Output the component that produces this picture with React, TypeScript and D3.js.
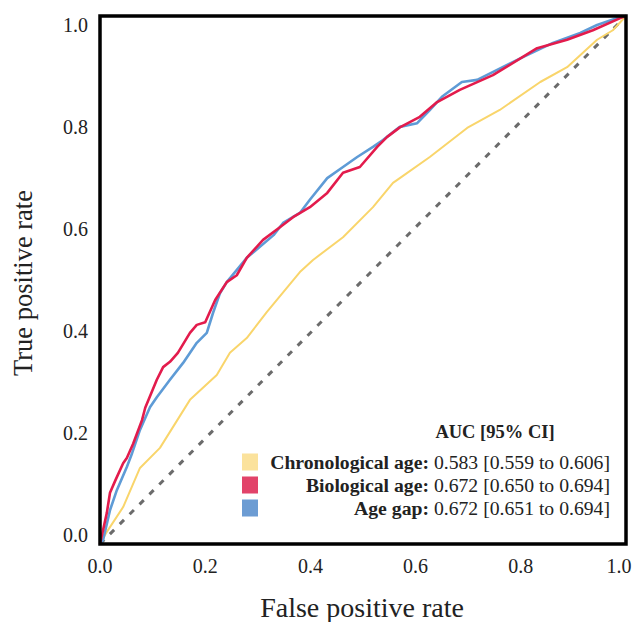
import React from "react";
import * as d3 from "d3";

const chronoFpr = [0, 0.013, 0.044, 0.076, 0.114, 0.171, 0.222, 0.247, 0.279, 0.317, 0.38, 0.405, 0.462, 0.519, 0.557, 0.57, 0.627, 0.698, 0.76, 0.837, 0.888, 0.945, 0.975, 1];
const chronoTpr = [0, 0.023, 0.07, 0.144, 0.182, 0.273, 0.32, 0.362, 0.39, 0.439, 0.515, 0.538, 0.581, 0.638, 0.684, 0.693, 0.733, 0.788, 0.822, 0.875, 0.903, 0.955, 0.973, 1];

const bioFpr = [0, 0.013, 0.019, 0.029, 0.044, 0.051, 0.063, 0.08, 0.086, 0.108, 0.12, 0.133, 0.148, 0.171, 0.184, 0.2, 0.219, 0.241, 0.26, 0.279, 0.31, 0.342, 0.367, 0.399, 0.432, 0.462, 0.494, 0.527, 0.546, 0.57, 0.608, 0.641, 0.684, 0.747, 0.831, 0.888, 0.937, 0.989, 1];
const bioTpr = [0, 0.059, 0.097, 0.12, 0.153, 0.163, 0.19, 0.235, 0.258, 0.311, 0.335, 0.345, 0.362, 0.4, 0.415, 0.42, 0.462, 0.496, 0.509, 0.542, 0.576, 0.6, 0.619, 0.638, 0.665, 0.703, 0.714, 0.752, 0.771, 0.789, 0.809, 0.837, 0.86, 0.888, 0.939, 0.955, 0.973, 0.996, 1];

const gapFpr = [0, 0.006, 0.019, 0.032, 0.051, 0.061, 0.076, 0.095, 0.108, 0.133, 0.158, 0.184, 0.203, 0.215, 0.228, 0.241, 0.279, 0.33, 0.348, 0.38, 0.399, 0.432, 0.462, 0.489, 0.519, 0.538, 0.57, 0.603, 0.627, 0.65, 0.688, 0.717, 0.755, 0.804, 0.861, 0.913, 0.945, 0.989, 1];
const gapTpr = [0, 0.008, 0.064, 0.102, 0.146, 0.172, 0.216, 0.259, 0.278, 0.311, 0.343, 0.381, 0.4, 0.438, 0.475, 0.496, 0.542, 0.585, 0.608, 0.627, 0.652, 0.693, 0.714, 0.733, 0.752, 0.765, 0.79, 0.797, 0.822, 0.847, 0.875, 0.879, 0.898, 0.922, 0.949, 0.968, 0.983, 0.998, 1];

const tickValues = [0, 0.2, 0.4, 0.6, 0.8, 1.0];
const seriesNames = ["Chronological age:", "Biological age:", "Age gap:"];
const seriesAuc = ["0.583 [0.559 to 0.606]", "0.672 [0.650 to 0.694]", "0.672 [0.651 to 0.694]"];
const lineColors = ["#F9D56B", "#E31B4C", "#5E9BD6"];
const swatchColors = ["#FBE29C", "#E2436A", "#6C9CD3"];

const W = 636;
const H = 622;
const L = 100, R = 626, T = 16, B = 544;

export default function App() {
  const x = d3.scaleLinear().domain([0, 1]).range([L, R]);
  const y = d3.scaleLinear().domain([0, 1]).range([B, T]);
  const yLab = d3.scaleLinear().domain([0, 1]).range([535, 25]);
  const line = d3.line<[number, number]>().x((d) => x(d[0])).y((d) => y(d[1]));
  const series = [
    { f: chronoFpr, t: chronoTpr },
    { f: gapFpr, t: gapTpr, c: 2 },
    { f: bioFpr, t: bioTpr, c: 1 },
  ];
  const font = "'Liberation Serif', 'Times New Roman', serif";
  const legendY = d3.scaleLinear().domain([0, 1]).range([462, 485]);
  return (
    <svg width={W} height={H} style={{ position: "absolute", left: 0, top: 0, background: "#fff" }} fontFamily={font}>
      <rect x={0} y={0} width={W} height={H} fill="#fff" />
      <line x1={x(0)} y1={y(0)} x2={x(1)} y2={y(1)} stroke="#6b6b6b" strokeWidth={3} strokeDasharray="6 8" />
      {series.map((s, i) => (
        <path
          key={i}
          d={line(s.f.map((v, j) => [v, s.t[j]] as [number, number])) || ""}
          fill="none"
          stroke={lineColors[s.c ?? 0]}
          strokeWidth={i === 0 ? 2 : 2.6}
          strokeLinejoin="round"
        />
      ))}
      <rect x={L} y={T} width={R - L} height={B - T} fill="none" stroke="#000" strokeWidth={3.5} />
      {tickValues.map((v) => (
        <text key={"x" + v} x={Math.min(x(v), W - 17)} y={573} textAnchor="middle" fontSize={20} fill="#222">
          {v.toFixed(1)}
        </text>
      ))}
      {tickValues.map((v) => (
        <text key={"y" + v} x={88} y={yLab(v)} dy="0.35em" textAnchor="end" fontSize={20} fill="#222">
          {v.toFixed(1)}
        </text>
      ))}
      <text x={362} y={617} textAnchor="middle" fontSize={28} fill="#222">
        False positive rate
      </text>
      <text transform={`translate(32, 283) rotate(-90)`} textAnchor="middle" fontSize={26.5} fill="#222">
        True positive rate
      </text>
      <text x={495} y={438} textAnchor="middle" fontSize={18.5} fontWeight="bold" fill="#222">
        AUC [95% CI]
      </text>
      {seriesNames.map((n, i) => (
        <g key={n}>
          <rect x={242} y={legendY(i) - 8.5} width={16} height={17} fill={swatchColors[i]} />
          <text x={610} y={legendY(i)} dy="0.35em" textAnchor="end" fontSize={19.7} fill="#222">
            <tspan fontWeight="bold">{n}</tspan>
            <tspan> {seriesAuc[i]}</tspan>
          </text>
        </g>
      ))}
    </svg>
  );
}
